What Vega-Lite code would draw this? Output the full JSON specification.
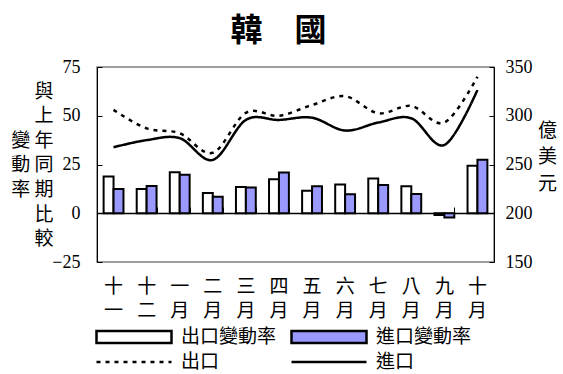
{
  "$schema": "https://vega.github.io/schema/vega-lite/v6.json",
  "width": 397,
  "height": 195,
  "autosize": "none",
  "padding": {"left": 97, "top": 67, "right": 69, "bottom": 112},
  "background": "white",
  "title": {"text": "韓　國", "font": "Noto Sans CJK TC", "fontSize": 32, "fontWeight": "bold", "anchor": "middle", "dx": -17, "offset": 10, "color": "black"},
  "datasets": {
    "bars": [
      {"month": "十一", "type": "出口變動率", "value": 18.8},
      {"month": "十一", "type": "進口變動率", "value": 12.5},
      {"month": "十二", "type": "出口變動率", "value": 12.5},
      {"month": "十二", "type": "進口變動率", "value": 14.0},
      {"month": "一月", "type": "出口變動率", "value": 21.0},
      {"month": "一月", "type": "進口變動率", "value": 19.8},
      {"month": "二月", "type": "出口變動率", "value": 10.4},
      {"month": "二月", "type": "進口變動率", "value": 8.4},
      {"month": "三月", "type": "出口變動率", "value": 13.5},
      {"month": "三月", "type": "進口變動率", "value": 13.2},
      {"month": "四月", "type": "出口變動率", "value": 17.4},
      {"month": "四月", "type": "進口變動率", "value": 20.9},
      {"month": "五月", "type": "出口變動率", "value": 11.5},
      {"month": "五月", "type": "進口變動率", "value": 13.8},
      {"month": "六月", "type": "出口變動率", "value": 14.7},
      {"month": "六月", "type": "進口變動率", "value": 9.7},
      {"month": "七月", "type": "出口變動率", "value": 17.8},
      {"month": "七月", "type": "進口變動率", "value": 14.5},
      {"month": "八月", "type": "出口變動率", "value": 13.8},
      {"month": "八月", "type": "進口變動率", "value": 9.9},
      {"month": "九月", "type": "出口變動率", "value": -0.9},
      {"month": "九月", "type": "進口變動率", "value": -2.2},
      {"month": "十月", "type": "出口變動率", "value": 24.4},
      {"month": "十月", "type": "進口變動率", "value": 27.5}
    ],
    "lines": [
      {"month": "十一", "series": "出口", "value": 306},
      {"month": "十二", "series": "出口", "value": 287},
      {"month": "一月", "series": "出口", "value": 282},
      {"month": "二月", "series": "出口", "value": 262},
      {"month": "三月", "series": "出口", "value": 303},
      {"month": "四月", "series": "出口", "value": 300},
      {"month": "五月", "series": "出口", "value": 311},
      {"month": "六月", "series": "出口", "value": 320},
      {"month": "七月", "series": "出口", "value": 302.6},
      {"month": "八月", "series": "出口", "value": 310},
      {"month": "九月", "series": "出口", "value": 293},
      {"month": "十月", "series": "出口", "value": 340},
      {"month": "十一", "series": "進口", "value": 267.7},
      {"month": "十二", "series": "進口", "value": 275},
      {"month": "一月", "series": "進口", "value": 277},
      {"month": "二月", "series": "進口", "value": 254.7},
      {"month": "三月", "series": "進口", "value": 295.7},
      {"month": "四月", "series": "進口", "value": 295.7},
      {"month": "五月", "series": "進口", "value": 298},
      {"month": "六月", "series": "進口", "value": 284.8},
      {"month": "七月", "series": "進口", "value": 293},
      {"month": "八月", "series": "進口", "value": 297.4},
      {"month": "九月", "series": "進口", "value": 270},
      {"month": "十月", "series": "進口", "value": 326.5}
    ]
  },
  "layer": [
    {
      "data": {"name": "bars"},
      "mark": {"type": "bar", "stroke": "black", "strokeWidth": 2},
      "encoding": {
        "x": {
          "field": "month", "type": "nominal",
          "scale": {"domain": ["十一","十二","一月","二月","三月","四月","五月","六月","七月","八月","九月","十月"], "paddingInner": 0.4, "paddingOuter": 0.2},
          "axis": {"orient": "bottom", "title": null, "ticks": false, "domain": false, "labelExpr": "split(datum.label, '')", "labelFont": "Noto Sans CJK TC", "labelFontSize": 19, "labelLineHeight": 24.5, "labelPadding": 15, "labelAngle": 0, "labelColor": "black", "labelBaseline": "top"}
        },
        "xOffset": {"field": "type", "type": "nominal", "scale": {"domain": ["出口變動率","進口變動率"], "paddingInner": 0, "paddingOuter": 0}},
        "y": {
          "field": "value", "type": "quantitative",
          "scale": {"domain": [-25, 75], "nice": false, "zero": false},
          "axis": {"orient": "left", "values": [-25, 0, 25, 50, 75], "grid": false,
            "title": ["與","上","變 年","動 同","率 期","比","較"],
            "titleAngle": 0, "titleAlign": "right", "titleBaseline": "top", "titleX": -44, "titleY": 15, "titleLineHeight": 24.6,
            "titleFont": "Noto Sans CJK TC", "titleFontSize": 19, "titleFontWeight": "normal", "titleColor": "black",
            "labelFont": "Liberation Serif", "labelFontSize": 18, "labelColor": "black",
            "tickSize": -5, "labelPadding": 22, "tickColor": "black", "domainColor": "black"}
        },
        "fill": {
          "field": "type", "type": "nominal",
          "scale": {"domain": ["出口變動率","進口變動率"], "range": ["white", "#9999FF"]},
          "legend": {"orient": "none", "legendX": -2, "legendY": 231, "direction": "horizontal", "columns": 2, "title": null,
            "symbolType": "M-1,-0.16L1,-0.16L1,0.16L-1,0.16Z", "symbolSize": 5625, "symbolStrokeColor": "black", "symbolStrokeWidth": 2.5, "symbolOpacity": 1,
            "labelFont": "Noto Sans CJK TC", "labelFontSize": 19, "labelColor": "black", "labelOffset": 8, "columnPadding": 9, "padding": 0}
        }
      }
    },
    {
      "data": {"name": "lines"},
      "mark": {"type": "line", "interpolate": "cardinal", "color": "black", "strokeWidth": 2.5},
      "encoding": {
        "x": {
          "field": "month", "type": "nominal",
          "axis": {"orient": "top", "offset": -146, "labels": false, "title": null, "domainColor": "black", "domainWidth": 1.5, "tickColor": "black", "tickSize": 6, "tickBand": "extent", "tickWidth": 1}
        },
        "y": {
          "field": "value", "type": "quantitative",
          "scale": {"domain": [150, 350], "nice": false, "zero": false},
          "axis": {"orient": "right", "values": [150, 200, 250, 300, 350], "grid": false,
            "title": ["億","美","元"],
            "titleAngle": 0, "titleAlign": "center", "titleBaseline": "top", "titleX": 53, "titleY": 54, "titleLineHeight": 26.5,
            "titleFont": "Noto Sans CJK TC", "titleFontSize": 19, "titleFontWeight": "normal", "titleColor": "black",
            "labelFont": "Liberation Serif", "labelFontSize": 18, "labelColor": "black",
            "tickSize": -5, "labelPadding": 16, "tickColor": "black", "domainColor": "black"}
        },
        "strokeDash": {
          "field": "series", "type": "nominal",
          "scale": {"domain": ["出口","進口"], "range": [[4, 5], [1, 0]]},
          "legend": {"orient": "none", "legendX": -2, "legendY": 256, "direction": "horizontal", "columns": 2, "title": null,
            "symbolType": "stroke", "symbolSize": 5625, "symbolStrokeColor": "black", "symbolStrokeWidth": 2.5,
            "labelFont": "Noto Sans CJK TC", "labelFontSize": 19, "labelColor": "black", "labelOffset": 8, "columnPadding": 66, "padding": 0}
        }
      }
    }
  ],
  "resolve": {"scale": {"y": "independent"}, "axis": {"x": "independent", "y": "independent"}},
  "config": {"view": {"stroke": "#808080", "strokeWidth": 1.5}, "axis": {"grid": false}, "font": "Noto Sans CJK TC"}
}
